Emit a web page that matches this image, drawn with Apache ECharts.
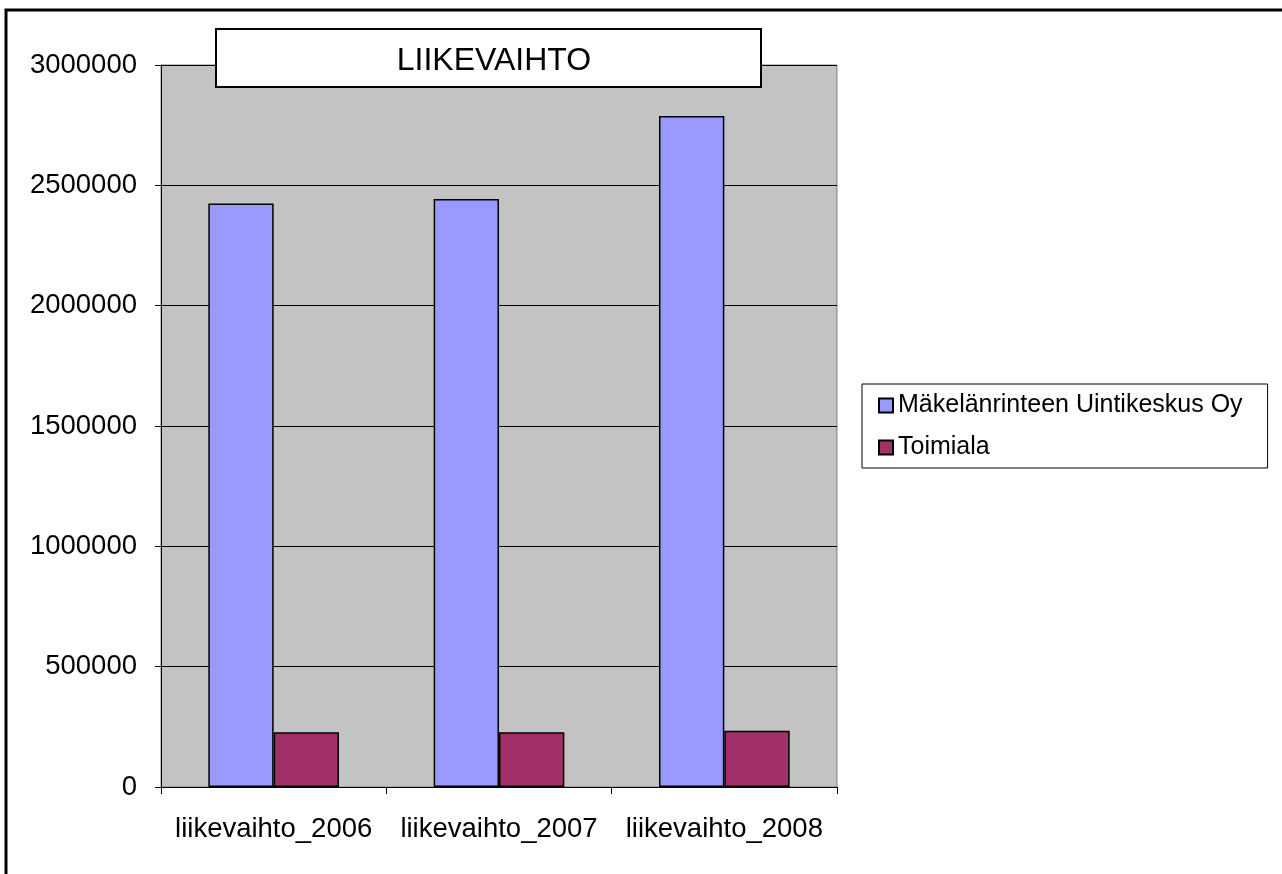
<!DOCTYPE html>
<html>
<head>
<meta charset="utf-8">
<script src="https://cdn.jsdelivr.net/npm/echarts@6/dist/echarts.min.js"></script>
<style>
html,body{margin:0;padding:0;background:#fff;}
#chart{width:1282px;height:874px;}
</style>
</head>
<body>
<div id="chart"></div>
<script>
const categories = ['liikevaihto_2006', 'liikevaihto_2007', 'liikevaihto_2008'];
const seriesNames = ['Mäkelänrinteen Uintikeskus Oy', 'Toimiala'];
const companyValues = [2425000, 2443000, 2788000];
const industryValues = [228000, 228000, 234000];
const titleText = 'LIIKEVAIHTO';

const FONT = "'Liberation Sans', Arial, sans-serif";
const chart = echarts.init(document.getElementById('chart'), null, {renderer: 'canvas'});
chart.setOption({
  backgroundColor: '#ffffff',
  animation: false,
  textStyle: {fontFamily: FONT, color: '#000'},
  graphic: [
    {type: 'rect', z: 0, shape: {x: 6, y: 10, width: 1300, height: 900},
     style: {fill: 'none', stroke: '#000', lineWidth: 3}},
    {type: 'rect', z: 100, shape: {x: 216, y: 29, width: 545, height: 58},
     style: {fill: '#fff', stroke: '#000', lineWidth: 2}}
  ],
  title: {
    text: titleText, left: 489, top: 40, textAlign: 'center', z: 200,
    textStyle: {fontFamily: FONT, fontSize: 32, fontWeight: 'normal', color: '#000'}
  },
  legend: {
    data: seriesNames, orient: 'vertical', left: 862, top: 384,
    backgroundColor: '#fff', borderColor: '#000', borderWidth: 1,
    padding: [9, 25, 8, 16], itemGap: 17, itemWidth: 14, itemHeight: 14,
    icon: 'rect',
    textStyle: {fontFamily: FONT, fontSize: 25, color: '#000'}
  },
  grid: {
    left: 161, right: 445, top: 65, bottom: 87,
    show: true, backgroundColor: '#C3C3C3', borderColor: '#808080', borderWidth: 1
  },
  xAxis: {
    type: 'category', data: categories,
    axisLine: {lineStyle: {color: '#000', width: 1}},
    axisTick: {show: true, length: 7, lineStyle: {color: '#000'}},
    axisLabel: {fontFamily: FONT, fontSize: 27.5, color: '#000', margin: 28, interval: 0}
  },
  yAxis: {
    type: 'value', min: 0, max: 3000000, interval: 500000,
    axisLine: {show: true, lineStyle: {color: '#000', width: 1}},
    axisTick: {show: true, length: 6, lineStyle: {color: '#000'}},
    splitLine: {lineStyle: {color: '#000', width: 1}},
    axisLabel: {fontFamily: FONT, fontSize: 27.5, color: '#000', margin: 24,
      formatter: v => String(v)}
  },
  series: [
    {name: seriesNames[0], type: 'bar', data: companyValues,
     barCategoryGap: '42%', barGap: '0%',
     itemStyle: {color: '#9999FF', borderColor: '#000', borderWidth: 1.5}},
    {name: seriesNames[1], type: 'bar', data: industryValues,
     barCategoryGap: '42%', barGap: '0%',
     itemStyle: {color: '#A33068', borderColor: '#000', borderWidth: 1.5}}
  ]
});
</script>
</body>
</html>
